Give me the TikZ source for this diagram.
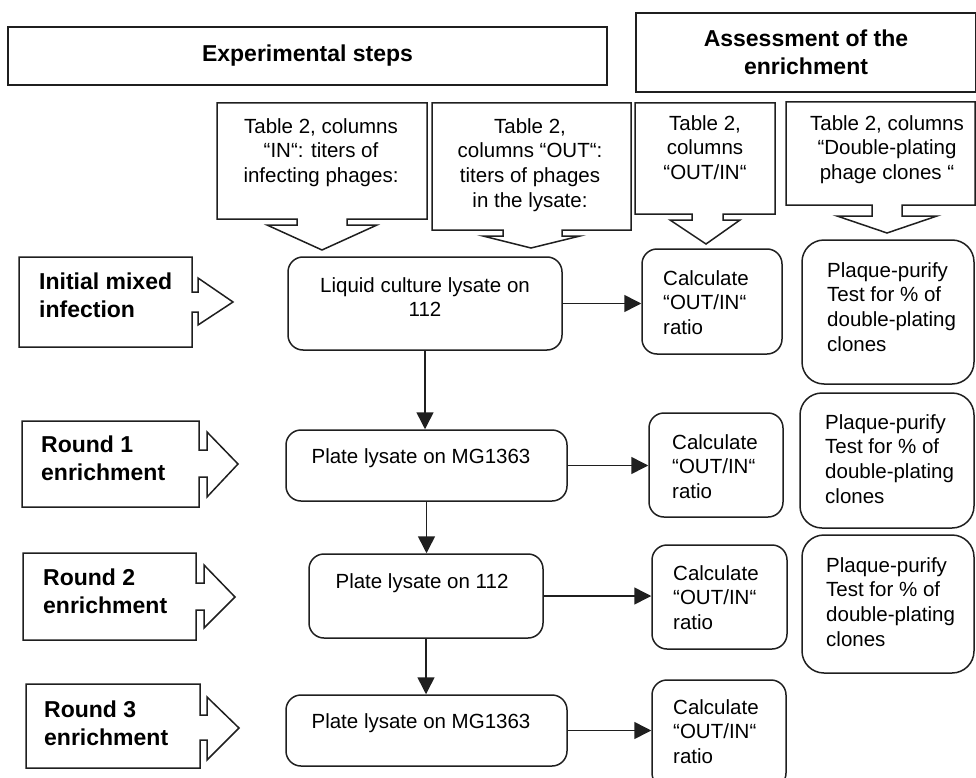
\documentclass[tikz,border=0pt]{standalone}
\usepackage{fontspec}
\setmainfont{Liberation Sans}
\usetikzlibrary{arrows.meta}
\newcommand\nf{\fontsize{20.5}{24.7}\selectfont}
\newcommand\bnf{\fontsize{23}{28}\selectfont\bfseries}
\tikzset{
  outline/.style={draw=black!88, line width=1.5pt, line join=miter},
  rbox/.style={outline, rounded corners=15pt, inner sep=0pt},
  pbox/.style={outline, rounded corners=22pt, inner sep=0pt},
  hbox/.style={outline, inner sep=0pt, font=\bnf, align=center},
  ctext/.style={inner sep=0pt, anchor=north, align=center, font=\nf},
  ltext/.style={inner sep=0pt, anchor=north west, align=left, font=\nf},
  btext/.style={inner sep=0pt, anchor=north west, align=left, font=\bnf},
  conn/.style={draw=black!88, line width=1.5pt, -{Triangle[length=17pt,width=17pt]}}
}
\begin{document}
\begin{tikzpicture}[x=1pt,y=-1pt]
\useasboundingbox (0,0) rectangle (976,778);
\fill[white] (0,0) rectangle (976,778);

% header boxes
\node[hbox, minimum width=599pt, minimum height=58pt] (exp) at (307.5,56) {Experimental steps};
\node[hbox, minimum width=340pt, minimum height=79pt] (assess) at (806,52.5) {Assessment of the\\enrichment};

% callouts
\draw[outline] (217,103) -- (427,103) -- (427,219) -- (347,219) -- (347,225) -- (377,225) -- (322,250) -- (267,225) -- (297,225) -- (297,219) -- (217,219) -- cycle;
\node[ctext] (c1) at (321,118) {Table 2, columns\\“IN“: titers of\\infecting phages:};
\draw[outline] (432,103) -- (631,103) -- (631,230) -- (562,230) -- (562,236) -- (580,236) -- (531,248) -- (483,236) -- (503,236) -- (503,230) -- (432,230) -- cycle;
\node[ctext] (c2) at (530,118) {Table 2,\\columns “OUT“:\\titers of phages\\in the lysate:};
\draw[outline] (635,103) -- (775,103) -- (775,214) -- (723,214) -- (723,220) -- (740,220) -- (706,244) -- (670,220) -- (692,220) -- (692,214) -- (635,214) -- cycle;
\node[ctext] (c3) at (705,115) {Table 2,\\columns\\“OUT/IN“};
\draw[outline] (786,102) -- (975,102) -- (975,205) -- (902,205) -- (902,216) -- (937,216) -- (887,233) -- (837,216) -- (872,216) -- (872,205) -- (786,205) -- cycle;
\node[ctext] (c4) at (887,115) {Table 2, columns\\“Double-plating\\phage clones “};

% left arrow boxes
\draw[outline] (19,257) -- (192,257) -- (192,292) -- (198,292) -- (198,278) -- (233,302) -- (198,325) -- (198,312) -- (192,312) -- (192,347) -- (19,347) -- cycle;
\node[btext] (l0) at (39,273) {Initial mixed\\infection};
\draw[outline] (22,421) -- (199,421) -- (199,450) -- (207,450) -- (207,432) -- (238,464) -- (207,497) -- (207,477) -- (199,477) -- (199,507) -- (22,507) -- cycle;
\node[btext] (l1) at (41,436) {Round 1\\enrichment};
\draw[outline] (23,553) -- (196,553) -- (196,583) -- (204,583) -- (204,565) -- (235,597) -- (204,628) -- (204,610) -- (196,610) -- (196,640) -- (23,640) -- cycle;
\node[btext] (l2) at (43,569) {Round 2\\enrichment};
\draw[outline] (26,684) -- (200,684) -- (200,715) -- (207,715) -- (207,697) -- (239,728) -- (207,760) -- (207,740) -- (200,740) -- (200,768) -- (26,768) -- cycle;
\node[btext] (l3) at (44,701) {Round 3\\enrichment};

% main column
\node[rbox, minimum width=274pt, minimum height=93pt] (m1) at (425,303.5) {};
\node[ctext] (m1t) at (425,277) {Liquid culture lysate on\\112};
\node[rbox, minimum width=281pt, minimum height=71pt] (m2) at (426.5,465.5) {};
\node[ctext] (m2t) at (421,448) {Plate lysate on MG1363};
\node[rbox, minimum width=234pt, minimum height=84pt] (m3) at (426,596) {};
\node[ctext] (m3t) at (422,573) {Plate lysate on 112};
\node[rbox, minimum width=281pt, minimum height=71pt] (m4) at (426.5,730.5) {};
\node[ctext] (m4t) at (421,713) {Plate lysate on MG1363};

% calc column
\node[rbox, minimum width=140pt, minimum height=105pt] (k1) at (712,301.5) {};
\node[ltext] (k1t) at (663,270) {Calculate\\“OUT/IN“\\ratio};
\node[rbox, minimum width=134pt, minimum height=104pt] (k2) at (716,465) {};
\node[ltext] (k2t) at (672,434) {Calculate\\“OUT/IN“\\ratio};
\node[rbox, minimum width=135pt, minimum height=104pt] (k3) at (719.5,597) {};
\node[ltext] (k3t) at (673,565) {Calculate\\“OUT/IN“\\ratio};
\node[rbox, minimum width=134pt, minimum height=108pt] (k4) at (719,734) {};
\node[ltext] (k4t) at (673,699) {Calculate\\“OUT/IN“\\ratio};

% plaque column
\node[pbox, minimum width=172pt, minimum height=144pt] (p1) at (888,312) {};
\node[ltext] (p1t) at (827,262) {Plaque-purify\\Test for \% of\\double-plating\\clones};
\node[pbox, minimum width=174pt, minimum height=135pt] (p2) at (887,460.5) {};
\node[ltext] (p2t) at (825,414) {Plaque-purify\\Test for \% of\\double-plating\\clones};
\node[pbox, minimum width=172pt, minimum height=138pt] (p3) at (888,604) {};
\node[ltext] (p3t) at (826,557) {Plaque-purify\\Test for \% of\\double-plating\\clones};

% connectors
\draw[conn] (m1.south) -- (m1.south |- m2.north);
\draw[conn] (m2.south) -- (m2.south |- m3.north);
\draw[conn] (m3.south) -- (m3.south |- m4.north);
\draw[conn] (m1.east) -- (m1.east -| k1.west);
\draw[conn] (m2.east) -- (m2.east -| k2.west);
\draw[conn] (m3.east) -- (m3.east -| k3.west);
\draw[conn] (m4.east) -- (m4.east -| k4.west);
\end{tikzpicture}
\end{document}
